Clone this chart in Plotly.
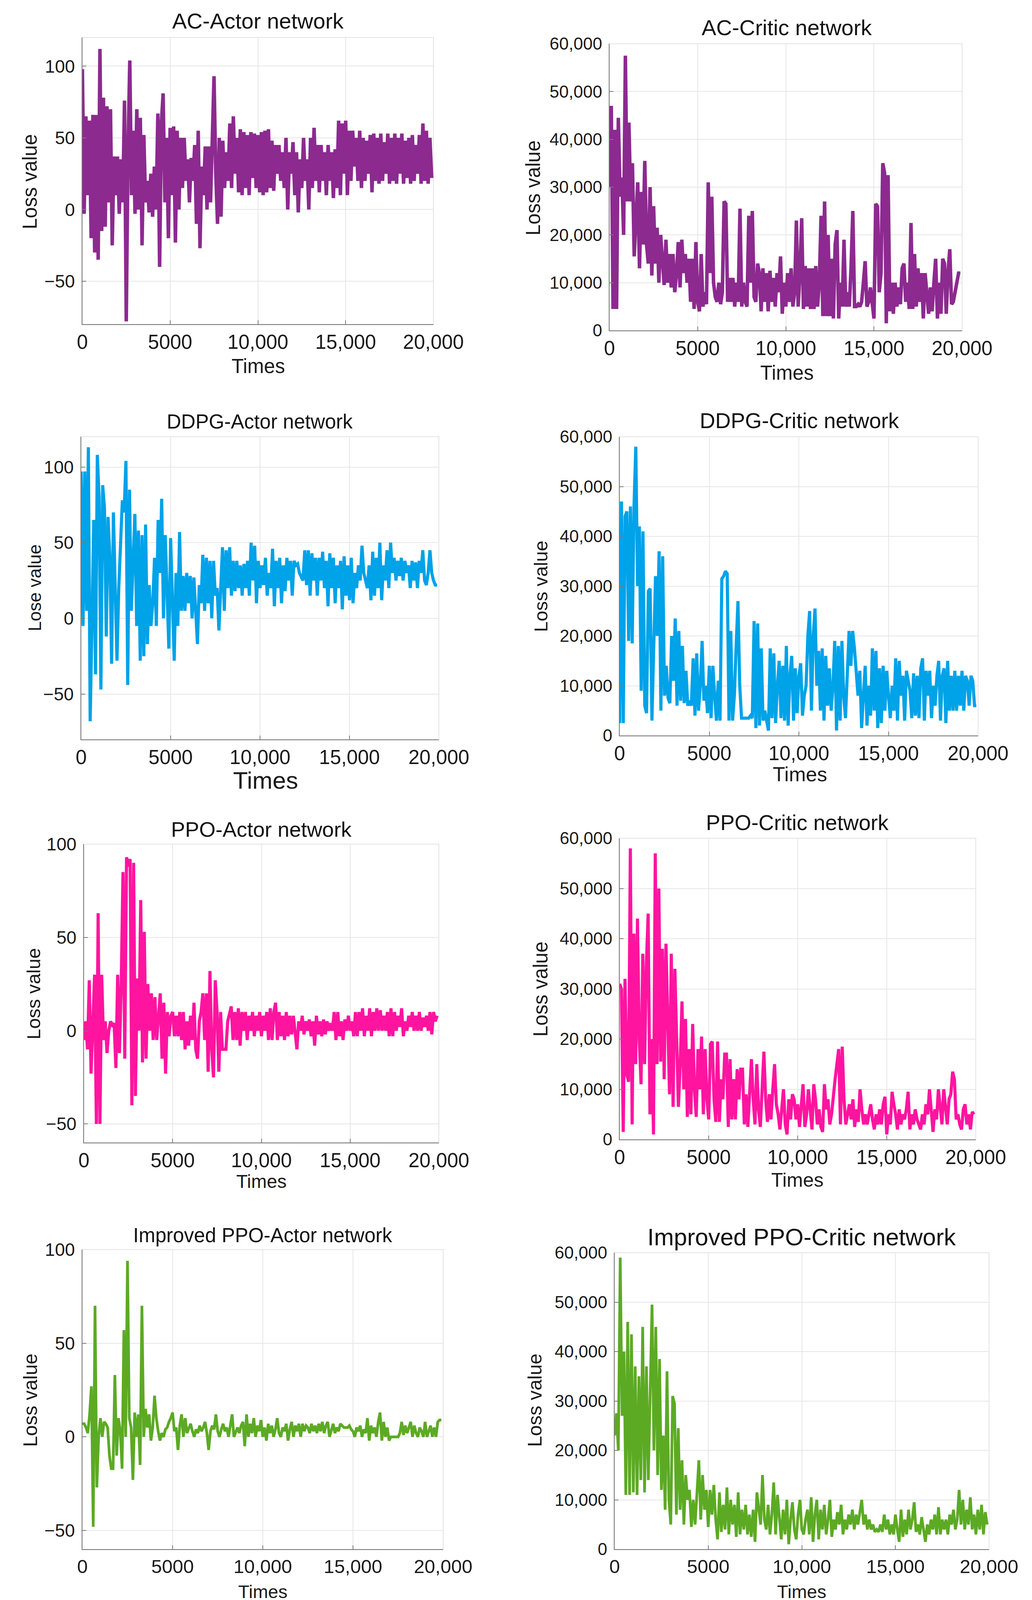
import plotly.graph_objects as go

W, H = 2643, 4126

# loss logged every 100 steps
times = list(range(0, 20000, 100))

ac_actor = [
    98, -3, 65, 10, 62, -20, 66, -30, 66, -35,
    112, -15, 78, -12, 72, 5, 70, -25, 37, 10,
    37, -3, 35, 5, 76, -78, 40, 104, 10, 55,
    -3, 70, 0, 64, -25, 52, 5, 20, -2, 25,
    -5, 30, 0, 67, -40, 60, 81, 5, 50, -20,
    57, 10, 58, -23, 55, 0, 50, 15, 50, 20,
    35, 5, 36, 20, 45, -10, 55, -27, 30, 10,
    44, 0, 44, 5, 48, 93, 25, -10, 50, -5,
    48, 15, 40, 20, 60, 15, 65, 25, 50, 12,
    56, 10, 54, 15, 52, 10, 54, 22, 53, 15,
    52, 12, 54, 10, 55, 12, 56, 15, 48, 13,
    45, 25, 45, 20, 40, 15, 50, 0, 40, 25,
    47, 10, 40, -2, 35, 15, 50, 20, 35, 0,
    50, 15, 57, 20, 45, 12, 45, 20, 40, 10,
    45, 20, 40, 8, 42, 15, 62, 10, 60, 25,
    62, 10, 55, 20, 55, 30, 50, 20, 55, 15,
    50, 20, 48, 25, 52, 12, 53, 20, 50, 18,
    53, 20, 47, 25, 53, 18, 50, 20, 53, 18,
    50, 25, 53, 18, 48, 22, 50, 18, 52, 20,
    45, 25, 52, 18, 60, 20, 55, 18, 50, 22,
]

ac_critic = [
    30000, 47000, 4500, 42000, 4500, 44500, 28000, 32000, 20000, 57500,
    27000, 43500, 27000, 35000, 15500, 25000, 31000, 13000, 29000, 18000,
    35500, 18000, 14000, 30000, 11500, 26000, 14000, 21500, 10000, 20000,
    15000, 9500, 19000, 10000, 16000, 9000, 16000, 8000, 12000, 18500,
    9000, 19000, 12000, 16000, 10000, 15000, 6000, 15000, 4500, 18500,
    6000, 4000, 16000, 5000, 8000, 5500, 31000, 12000, 28000, 10000,
    7000, 6000, 10000, 5500, 8000, 27000, 26500, 6000, 11000, 6000,
    11000, 5000, 10000, 6000, 25500, 5000, 10000, 6000, 5000, 24000,
    10000, 25000, 7000, 6000, 14000, 12000, 4000, 13000, 6000, 12000,
    4000, 12500, 6000, 11000, 5000, 12000, 8000, 15500, 3500, 10000,
    5000, 12000, 6000, 13000, 5000, 8000, 23000, 5000, 12000, 23500,
    4500, 13500, 5000, 13000, 4500, 13000, 4500, 13500, 5000, 10000,
    24000, 3000, 27000, 3000, 20000, 3000, 15000, 2500, 18000, 21000,
    2500, 10000, 5000, 19000, 5000, 8000, 5000, 13000, 25000, 5000,
    5000, 5500, 5000, 6000, 10000, 14500, 5000, 6000, 9000, 5000,
    2500, 26500, 26000, 8000, 12000, 35000, 33000, 1500, 32500, 4000,
    10000, 3500, 10000, 5000, 9000, 5500, 13000, 14000, 6000, 10000,
    4500, 22500, 4500, 16000, 5000, 13000, 6000, 12000, 2500, 12000,
    7000, 3500, 9000, 4000, 10000, 15000, 2500, 10000, 3500, 15000,
    14000, 3500, 12000, 17000, 5500, 6000, 8000, 10000, 12000, 12000,
]

ddpg_actor = [
    97, -5, 97, 5, 113, -68, -5, 65, -37, 108,
    80, -47, 88, 73, -12, 67, 40, -30, 70, 20,
    -28, 20, 50, 78, 70, 104, -44, 85, 5, 45,
    69, -5, 58, -28, 55, -25, 62, -17, 22, -5,
    10, 40, -5, 65, 30, 79, 0, 55, 20, -20,
    53, 15, -28, 30, -5, 57, 5, 28, 5, 30,
    10, 28, 0, 27, 5, -17, 22, 10, 42, 5,
    40, 10, 38, 0, 38, 15, 20, -8, 20, 47,
    5, 45, 20, 47, 15, 38, 18, 38, 20, 35,
    15, 36, 20, 38, 15, 50, 25, 48, 10, 38,
    20, 35, 22, 40, 15, 30, 20, 46, 8, 38,
    20, 40, 10, 35, 18, 40, 25, 38, 15, 38,
    35, 36, 30, 28, 25, 45, 22, 45, 15, 43,
    25, 40, 15, 40, 25, 44, 20, 38, 8, 43,
    20, 40, 10, 35, 20, 38, 6, 41, 15, 35,
    12, 40, 10, 30, 20, 35, 25, 48, 30, 25,
    20, 35, 12, 44, 15, 40, 20, 50, 12, 35,
    25, 45, 20, 50, 30, 40, 25, 38, 28, 40,
    25, 38, 30, 35, 20, 38, 25, 37, 20, 38,
    30, 45, 25, 22, 30, 45, 30, 25, 22, 22,
]

ddpg_critic = [
    2500, 47000, 2500, 44000, 45000, 19000, 46000, 18500, 46000, 58000,
    30000, 42000, 9000, 41000, 6000, 4500, 29000, 29500, 3000, 15000,
    32000, 20000, 37000, 5000, 36000, 8000, 14000, 7500, 6500, 20000,
    11000, 23500, 6000, 21000, 7000, 18000, 6500, 13000, 6000, 7000,
    6000, 15500, 4000, 16500, 5000, 10000, 19000, 7000, 10000, 4500,
    14000, 3500, 14000, 8000, 3000, 11000, 3000, 31500, 32000, 33000,
    32500, 3000, 21000, 3000, 8000, 18000, 27000, 10000, 3500, 3500,
    3500, 3500, 3500, 4000, 3500, 23000, 1500, 22500, 2000, 17500,
    3000, 5000, 2500, 1000, 17500, 3500, 16500, 2500, 10000, 15000,
    3500, 14000, 3000, 18000, 2000, 12000, 16000, 3000, 13500, 4500,
    12000, 14500, 4000, 8000, 10000, 20000, 25000, 5000, 20000, 25500,
    10000, 17000, 5000, 17500, 3000, 16000, 6000, 13500, 5000, 10000,
    19000, 1000, 18000, 3000, 19000, 8000, 3500, 12000, 21000, 14000,
    21000, 17500, 12000, 8000, 13000, 1500, 8000, 14000, 2000, 10000,
    4000, 17500, 5000, 17000, 1500, 13500, 2500, 14000, 5000, 13000,
    8000, 3500, 10000, 5000, 15500, 3000, 15000, 8000, 12000, 3000,
    13000, 11000, 9000, 3500, 12500, 4000, 12000, 3500, 13500, 15500,
    3000, 13000, 8000, 13000, 3500, 10000, 6000, 12000, 15000, 3000,
    12000, 13500, 2500, 15000, 5000, 12000, 5000, 13000, 5000, 12000,
    6000, 13000, 5000, 12000, 11000, 6000, 12000, 11000, 6000, 6000,
]

ppo_actor = [
    -5, 5, -10, 27, -23, 5, 30, -50, 63, -50,
    30, -5, 5, -12, 0, 5, 3, 4, -20, 30,
    -12, 25, 85, -15, 93, 88, 92, -40, 90, -35,
    28, 0, 70, -17, 53, -15, 25, 0, 20, -5,
    18, -5, 10, 20, -15, 15, -23, 10, -3, 8,
    10, -3, 8, -3, 10, -5, 10, -10, 5, -8,
    8, -5, 15, -10, -15, 5, 10, 20, -5, 20,
    -22, 32, -10, -25, 27, 10, -22, 10, -10, -10,
    -10, 5, 10, 13, -5, 10, -5, 12, -8, 10,
    0, 10, -5, 8, 0, 10, -3, 8, 0, 10,
    -3, 8, 0, 10, -5, 12, -5, 10, 15, -5,
    10, -3, 8, -5, 10, -3, 8, -2, 8, 0,
    -10, 5, 0, 8, -2, 5, 0, 6, -3, 5,
    -8, 8, -2, 5, -3, 6, -2, 5, 0, 4,
    0, 10, -5, 10, -3, 5, -5, 6, 0, 8,
    0, 5, -3, 10, -3, 10, 0, 12, -3, 8,
    0, 12, -3, 10, 0, 12, 0, 11, 0, 8,
    0, 10, -3, 12, -3, 10, 0, 8, 2, 12,
    -3, 5, 0, 8, 2, 10, 0, 8, 0, 10,
    0, 7, 2, 8, 0, 10, -2, 10, 5, 8,
]

ppo_critic = [
    31000, 30000, 1500, 32000, 13000, 11500, 58000, 3000, 41000, 15000,
    44000, 20000, 11000, 37000, 15000, 35000, 45000, 5000, 20000, 1000,
    57000, 15000, 50000, 15500, 38000, 12000, 39000, 20000, 9000, 37000,
    6500, 34000, 20000, 6500, 15000, 27500, 10000, 24000, 4500, 18000,
    5000, 23000, 10000, 4500, 18000, 10000, 20500, 5000, 18000, 8000,
    4000, 19000, 19500, 8000, 3500, 19500, 3500, 12000, 8000, 17000,
    17000, 2500, 16000, 4000, 12000, 4000, 14000, 8000, 14000, 14000,
    3000, 9000, 2500, 10000, 16000, 8000, 3000, 15000, 6000, 2500,
    10000, 17500, 8000, 3500, 9000, 4000, 10000, 15000, 7000, 5000,
    2000, 6000, 10000, 3000, 1000, 8000, 4000, 9000, 8000, 4000,
    7000, 2500, 6000, 11000, 2500, 5000, 10000, 6000, 2000, 11000,
    8000, 3000, 6000, 2500, 1500, 11000, 6000, 8000, 3000, 5000,
    9000, 12000, 15000, 18000, 3000, 18500, 8000, 3000, 5000, 7000,
    4000, 8000, 2500, 6000, 3500, 10000, 6000, 3000, 5000, 3000,
    5000, 7000, 4000, 2000, 5000, 3000, 6000, 3000, 7000, 8500,
    1000, 5000, 3000, 9500, 7000, 5000, 2000, 6000, 3000, 5000,
    4000, 6000, 9500, 2000, 5000, 3000, 6000, 4000, 3000, 2000,
    5000, 3000, 7000, 5000, 10000, 5000, 1500, 6000, 4000, 10000,
    6000, 3000, 10000, 6000, 3000, 8000, 9000, 13500, 12000, 4000,
    5000, 3000, 2000, 6000, 7000, 3000, 5000, 2000, 5500, 5000,
]

imp_actor = [
    7, 7, 5, 2, 12, 27, -48, 70, -27, 0,
    10, 0, 8, 7, 5, -10, -17, -17, 33, -10,
    10, 3, -17, 57, 0, 94, 10, 5, -23, 13,
    0, 12, -15, 70, 0, 15, 5, 12, -2, 5,
    22, 10, 3, -2, 2, 0, 4, 5, 8, 10,
    13, 3, 5, -7, 6, 12, 0, 10, 2, 5,
    7, 3, 0, 4, 2, 6, 3, 5, 8, 2,
    -7, 3, 6, 4, 12, 3, 0, 4, 7, 3,
    5, 0, 6, 12, 0, 3, 5, 2, 6, 8,
    -5, 12, 0, 7, 2, 10, 0, 6, 3, 9,
    0, 5, -2, 7, 2, 6, 0, 4, 10, 2,
    0, 5, 3, 7, -2, 4, 8, 0, 6, 3,
    7, 0, 7, 3, 6, 5, 2, 7, 3, 6,
    2, 7, 3, 8, 2, 6, 8, 0, 4, 7,
    2, 5, 3, 7, 6, 5, 5, 5, 6, 4,
    3, 0, 5, 3, 6, 0, 4, 2, 10, -2,
    6, 2, 5, 0, 8, 13, -2, 8, 0, 5,
    -2, 0, 0, 0, 0, 0, 2, 8, 1, 6,
    2, 5, 8, 0, 6, 2, 0, 5, 3, 0,
    8, 0, 3, 6, 0, 5, 0, 8, 9, 9,
]

imp_critic = [
    23000, 27500, 20000, 59000, 27000, 40000, 11000, 46000, 11000, 43500,
    11500, 37000, 11000, 35000, 14000, 45000, 11500, 37000, 14000, 35000,
    49500, 20000, 45000, 15000, 38500, 12000, 23000, 8000, 36000, 10000,
    5000, 31000, 29500, 7000, 24500, 8000, 18000, 5000, 15000, 10000,
    12000, 4500, 10000, 5000, 12000, 18000, 6000, 15000, 8000, 12000,
    4500, 12000, 7000, 13000, 6000, 2000, 11500, 3500, 9000, 4000,
    12500, 3000, 10000, 5000, 9000, 2500, 11500, 3000, 8000, 4000,
    9000, 3000, 7000, 2500, 8000, 1500, 11500, 8000, 5000, 15000,
    6000, 4000, 9000, 3000, 7000, 13500, 3000, 11000, 6000, 2000,
    8000, 3000, 10000, 1000, 6000, 9500, 4000, 2000, 7000, 10000,
    4000, 3000, 6000, 8000, 3000, 10500, 1500, 7000, 10000, 2000,
    8000, 4000, 9000, 3000, 6000, 10000, 2500, 6000, 4000, 7500,
    5000, 9000, 3000, 6000, 4000, 7000, 5000, 8000, 4000, 7000,
    5000, 8000, 10000, 5000, 7000, 4000, 6000, 4000, 5000, 3500,
    4000, 3500, 5000, 3500, 7000, 4000, 6000, 3000, 5000, 3000,
    7000, 4000, 1500, 8000, 2500, 6000, 3000, 8000, 4000, 6000,
    9500, 3500, 5000, 3000, 6500, 4000, 1500, 5000, 3000, 6000,
    4000, 7000, 3000, 8500, 3000, 6000, 4000, 6000, 3000, 7000,
    5000, 8000, 4000, 6000, 12000, 5000, 10000, 4000, 8000, 5000,
    10500, 4000, 7000, 3000, 8000, 4000, 9000, 3000, 7500, 5000,
]

time_ticks = [0, 5000, 10000, 15000, 20000]
time_labels = ["0", "5000", "10,000", "15,000", "20,000"]
actor_ticks = [-50, 0, 50, 100]
actor_labels = ["\u221250", "0", "50", "100"]
critic_ticks = [0, 10000, 20000, 30000, 40000, 50000, 60000]
critic_labels = ["0", "10,000", "20,000", "30,000", "40,000", "50,000", "60,000"]

purple = "#8C2A8F"
blue = "#00A2E8"
pink = "#FF14A0"
green = "#5CAA24"

# title, values, colour, line width, y label, y range, actor/critic,
# plot box (left, top, right, bottom) in px, title pos+size, ylabel pos+size,
# xlabel pos+size, x tick size
panels = [
    ("AC-Actor network", ac_actor, purple, 9, "Loss value", [-80, 120], "a",
     (211, 96, 1110, 830), (661, 54, 56), (76, 465, 51), (661, 938, 51), 51),
    ("AC-Critic network", ac_critic, purple, 9, "Loss value", [0, 60000], "c",
     (1561, 112, 2464, 846), (2015, 70, 56), (1366, 481, 51), (2015, 955, 51), 51),
    ("DDPG-Actor network", ddpg_actor, blue, 8, "Lose value", [-80, 120], "a",
     (208, 1118, 1124, 1893), (665, 1080, 51), (89, 1504, 46), (680, 1998, 62), 51),
    ("DDPG-Critic network", ddpg_critic, blue, 8, "Loss value", [0, 60000], "c",
     (1587, 1118, 2505, 1883), (2047, 1077, 55), (1385, 1501, 49), (2049, 1982, 52), 51),
    ("PPO-Actor network", ppo_actor, pink, 8, "Loss value", [-60, 100], "a",
     (215, 2161, 1124, 2925), (669, 2123, 54), (86, 2544, 49), (669, 3024, 48), 51),
    ("PPO-Critic network", ppo_critic, pink, 8, "Loss value", [0, 60000], "c",
     (1587, 2146, 2499, 2917), (2042, 2106, 55), (1384, 2532, 51), (2042, 3021, 50), 51),
    ("Improved PPO-Actor network", imp_actor, green, 7, "Loss value", [-60, 100], "a",
     (211, 3199, 1135, 3966), (673, 3162, 51), (78, 3585, 50), (673, 4074, 47), 49),
    ("Improved PPO-Critic network", imp_critic, green, 7, "Loss value", [0, 60000], "c",
     (1574, 3207, 2533, 3966), (2053, 3167, 61), (1370, 3585, 50), (2053, 4074, 47), 49),
]

font_family = "Liberation Sans, Arial, sans-serif"
fig = go.Figure()
annotations = []
shapes = []
axes = {}

for i, (title, vals, colour, lw, ylab, yrange, kind, box, tpos, ypos, xpos, xtick) in enumerate(panels, start=1):
    n = "" if i == 1 else str(i)
    left, top, right, bottom = box
    fig.add_trace(go.Scatter(
        x=times[:len(vals)], y=vals, mode="lines",
        line=dict(color=colour, width=lw),
        xaxis="x" + n, yaxis="y" + n, showlegend=False, hoverinfo="skip",
    ))
    axes["xaxis" + n] = dict(
        domain=[left / W, right / W], anchor="y" + n, range=[0, 20000],
        tickvals=time_ticks, ticktext=time_labels,
        showgrid=True, gridcolor="#E6E6E6", gridwidth=2,
        showline=True, linecolor="#7A7A7A", linewidth=2,
        ticks="inside", ticklen=10, tickwidth=2, tickcolor="#7A7A7A",
        tickfont=dict(family=font_family, size=xtick, color="#1A1A1A"),
        ticklabelstandoff=0, zeroline=False, automargin=False,
    )
    axes["yaxis" + n] = dict(
        domain=[1 - bottom / H, 1 - top / H], anchor="x" + n, range=yrange,
        tickvals=actor_ticks if kind == "a" else critic_ticks,
        ticktext=actor_labels if kind == "a" else critic_labels,
        showgrid=True, gridcolor="#E6E6E6", gridwidth=2,
        showline=True, linecolor="#7A7A7A", linewidth=2,
        ticks="inside", ticklen=10, tickwidth=2, tickcolor="#7A7A7A",
        tickfont=dict(family=font_family, size=46 if kind == "a" else 44, color="#1A1A1A"),
        ticklabelstandoff=8, zeroline=False, automargin=False,
    )
    shapes.append(dict(
        type="rect", xref="x" + n + " domain", yref="y" + n + " domain",
        x0=0, x1=1, y0=0, y1=1, line=dict(color="#E3E3E3", width=2), layer="below",
    ))
    annotations.append(dict(
        text=title, x=tpos[0] / W, y=1 - tpos[1] / H, xref="paper", yref="paper",
        xanchor="center", yanchor="middle", showarrow=False,
        font=dict(family=font_family, size=tpos[2], color="#111111"),
    ))
    annotations.append(dict(
        text=ylab, x=ypos[0] / W, y=1 - ypos[1] / H, xref="paper", yref="paper",
        xanchor="center", yanchor="middle", showarrow=False, textangle=-90,
        font=dict(family=font_family, size=ypos[2], color="#1A1A1A"),
    ))
    annotations.append(dict(
        text="Times", x=xpos[0] / W, y=1 - xpos[1] / H, xref="paper", yref="paper",
        xanchor="center", yanchor="middle", showarrow=False,
        font=dict(family=font_family, size=xpos[2], color="#1A1A1A"),
    ))

fig.update_layout(
    width=W, height=H,
    margin=dict(l=0, r=0, t=0, b=0),
    paper_bgcolor="white", plot_bgcolor="white",
    annotations=annotations, shapes=shapes,
    hovermode=False,
    **axes,
)

fig.write_html(
    "out.html",
    config={"displayModeBar": False, "staticPlot": True},
    post_script=(
        "document.documentElement.style.overflow = 'hidden';"
        "document.body.style.overflow = 'hidden';"
        "document.body.style.margin = '0';"
    ),
)
